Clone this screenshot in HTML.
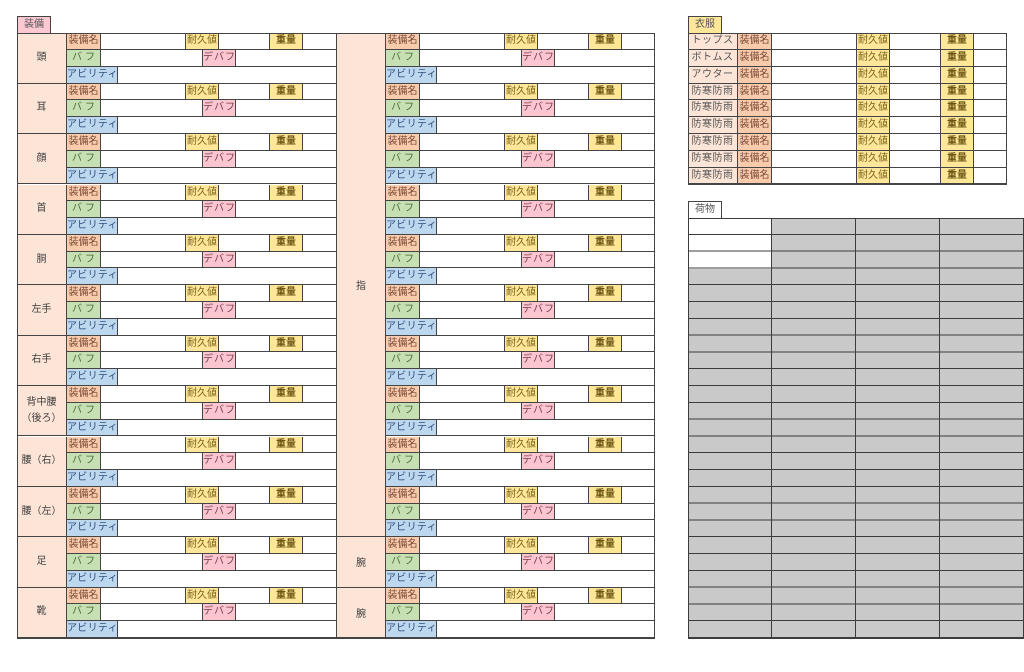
<!DOCTYPE html>
<html><head><meta charset="utf-8"><style>
*{margin:0;padding:0}
body{width:1024px;height:672px;background:#fff;position:relative;overflow:hidden;font-family:"Liberation Sans","Noto Sans CJK JP",sans-serif;font-size:10px;color:#444}
.abs{position:absolute;box-sizing:border-box}
.g{position:absolute;width:319px;height:50.4px}
.lab{position:absolute;left:0;top:0;width:50px;height:50.4px;box-sizing:border-box;background:#fce4d6;border-right:1px solid #444;border-bottom:1px solid #444;display:flex;align-items:center;justify-content:center;text-align:center;line-height:16px;color:#404040}
.row{position:absolute;left:50px;width:269px;height:16.8px;box-sizing:border-box;border-bottom:1px solid #444}
.r0{top:0}.r1{top:16.8px}.r2{top:33.6px}
.row span,.crow span{position:absolute;top:0;height:100%;box-sizing:border-box;border-right:1px solid #444;text-align:center;line-height:16px;white-space:nowrap}
.k{left:0;width:34px;background:#f8cbad;color:#7a4a34}
.t{left:118px;width:34px;border-left:1px solid #444;background:#ffe699;color:#7a6418}
.w{left:202px;width:34px;border-left:1px solid #444;background:#ffe699;color:#6a5410;font-weight:bold}
.b{left:0;width:34px;background:#c6e0b4;color:#4a6a3a;letter-spacing:3px;text-indent:3px}
.d{left:135px;width:34px;border-left:1px solid #444;background:#fcc6d0;color:#7a3a4c;letter-spacing:1px}
.a{left:0;width:51px;background:#bdd7ee;color:#2f5080;letter-spacing:0.3px}
.mid{position:absolute;left:336px;width:50px;box-sizing:border-box;background:#fce4d6;border-left:1px solid #444;border-right:1px solid #444;border-bottom:1px solid #444;display:flex;align-items:center;justify-content:center;color:#404040}
.crow{position:absolute;left:0;width:100%;height:16.8px;box-sizing:border-box;border-bottom:1px solid #444}
.cl{left:0;width:50px;background:#fce4d6;color:#555;letter-spacing:0.5px}
.ck{left:50px;width:34px;background:#f8cbad;color:#7a4a34}
.ct{left:168px;width:34px;border-left:1px solid #444;background:#ffe699;color:#7a6418}
.cw{left:252px;width:34px;border-left:1px solid #444;background:#ffe699;color:#6a5410;font-weight:bold}
.tab{position:absolute;box-sizing:border-box;border:1px solid #444;text-align:center;line-height:16px;height:18px;width:34px}
</style></head><body>

<div class="tab" style="left:17px;top:16px;background:#fcc8d2;color:#555">装備</div>
<div class="tab" style="left:688px;top:16px;background:#ffe699;color:#555">衣服</div>
<div class="tab" style="left:688px;top:201px;background:#fff;color:#555">荷物</div>

<!-- left column -->
<div class="g" style="left:17px;top:33.3px"><div class="lab">頭</div><div class="row r0"><span class="k">装備名</span><span class="t">耐久値</span><span class="w">重量</span></div><div class="row r1"><span class="b">バフ</span><span class="d">デバフ</span></div><div class="row r2"><span class="a">アビリティ</span></div></div>
<div class="g" style="left:17px;top:83.7px"><div class="lab">耳</div><div class="row r0"><span class="k">装備名</span><span class="t">耐久値</span><span class="w">重量</span></div><div class="row r1"><span class="b">バフ</span><span class="d">デバフ</span></div><div class="row r2"><span class="a">アビリティ</span></div></div>
<div class="g" style="left:17px;top:134.1px"><div class="lab">顔</div><div class="row r0"><span class="k">装備名</span><span class="t">耐久値</span><span class="w">重量</span></div><div class="row r1"><span class="b">バフ</span><span class="d">デバフ</span></div><div class="row r2"><span class="a">アビリティ</span></div></div>
<div class="g" style="left:17px;top:184.5px"><div class="lab">首</div><div class="row r0"><span class="k">装備名</span><span class="t">耐久値</span><span class="w">重量</span></div><div class="row r1"><span class="b">バフ</span><span class="d">デバフ</span></div><div class="row r2"><span class="a">アビリティ</span></div></div>
<div class="g" style="left:17px;top:234.9px"><div class="lab">胴</div><div class="row r0"><span class="k">装備名</span><span class="t">耐久値</span><span class="w">重量</span></div><div class="row r1"><span class="b">バフ</span><span class="d">デバフ</span></div><div class="row r2"><span class="a">アビリティ</span></div></div>
<div class="g" style="left:17px;top:285.3px"><div class="lab">左手</div><div class="row r0"><span class="k">装備名</span><span class="t">耐久値</span><span class="w">重量</span></div><div class="row r1"><span class="b">バフ</span><span class="d">デバフ</span></div><div class="row r2"><span class="a">アビリティ</span></div></div>
<div class="g" style="left:17px;top:335.7px"><div class="lab">右手</div><div class="row r0"><span class="k">装備名</span><span class="t">耐久値</span><span class="w">重量</span></div><div class="row r1"><span class="b">バフ</span><span class="d">デバフ</span></div><div class="row r2"><span class="a">アビリティ</span></div></div>
<div class="g" style="left:17px;top:386.1px"><div class="lab">背中腰<br>（後ろ）</div><div class="row r0"><span class="k">装備名</span><span class="t">耐久値</span><span class="w">重量</span></div><div class="row r1"><span class="b">バフ</span><span class="d">デバフ</span></div><div class="row r2"><span class="a">アビリティ</span></div></div>
<div class="g" style="left:17px;top:436.5px"><div class="lab">腰（右）</div><div class="row r0"><span class="k">装備名</span><span class="t">耐久値</span><span class="w">重量</span></div><div class="row r1"><span class="b">バフ</span><span class="d">デバフ</span></div><div class="row r2"><span class="a">アビリティ</span></div></div>
<div class="g" style="left:17px;top:486.9px"><div class="lab">腰（左）</div><div class="row r0"><span class="k">装備名</span><span class="t">耐久値</span><span class="w">重量</span></div><div class="row r1"><span class="b">バフ</span><span class="d">デバフ</span></div><div class="row r2"><span class="a">アビリティ</span></div></div>
<div class="g" style="left:17px;top:537.3px"><div class="lab">足</div><div class="row r0"><span class="k">装備名</span><span class="t">耐久値</span><span class="w">重量</span></div><div class="row r1"><span class="b">バフ</span><span class="d">デバフ</span></div><div class="row r2"><span class="a">アビリティ</span></div></div>
<div class="g" style="left:17px;top:587.7px"><div class="lab">靴</div><div class="row r0"><span class="k">装備名</span><span class="t">耐久値</span><span class="w">重量</span></div><div class="row r1"><span class="b">バフ</span><span class="d">デバフ</span></div><div class="row r2"><span class="a">アビリティ</span></div></div>

<!-- middle labels -->
<div class="mid" style="top:33.3px;height:504px">指</div>
<div class="mid" style="top:537.3px;height:50.4px">腕</div>
<div class="mid" style="top:587.7px;height:50.4px">腕</div>

<!-- right column -->
<div class="g" style="left:336px;top:33.3px"><div class="row r0"><span class="k">装備名</span><span class="t">耐久値</span><span class="w">重量</span></div><div class="row r1"><span class="b">バフ</span><span class="d">デバフ</span></div><div class="row r2"><span class="a">アビリティ</span></div></div>
<div class="g" style="left:336px;top:83.7px"><div class="row r0"><span class="k">装備名</span><span class="t">耐久値</span><span class="w">重量</span></div><div class="row r1"><span class="b">バフ</span><span class="d">デバフ</span></div><div class="row r2"><span class="a">アビリティ</span></div></div>
<div class="g" style="left:336px;top:134.1px"><div class="row r0"><span class="k">装備名</span><span class="t">耐久値</span><span class="w">重量</span></div><div class="row r1"><span class="b">バフ</span><span class="d">デバフ</span></div><div class="row r2"><span class="a">アビリティ</span></div></div>
<div class="g" style="left:336px;top:184.5px"><div class="row r0"><span class="k">装備名</span><span class="t">耐久値</span><span class="w">重量</span></div><div class="row r1"><span class="b">バフ</span><span class="d">デバフ</span></div><div class="row r2"><span class="a">アビリティ</span></div></div>
<div class="g" style="left:336px;top:234.9px"><div class="row r0"><span class="k">装備名</span><span class="t">耐久値</span><span class="w">重量</span></div><div class="row r1"><span class="b">バフ</span><span class="d">デバフ</span></div><div class="row r2"><span class="a">アビリティ</span></div></div>
<div class="g" style="left:336px;top:285.3px"><div class="row r0"><span class="k">装備名</span><span class="t">耐久値</span><span class="w">重量</span></div><div class="row r1"><span class="b">バフ</span><span class="d">デバフ</span></div><div class="row r2"><span class="a">アビリティ</span></div></div>
<div class="g" style="left:336px;top:335.7px"><div class="row r0"><span class="k">装備名</span><span class="t">耐久値</span><span class="w">重量</span></div><div class="row r1"><span class="b">バフ</span><span class="d">デバフ</span></div><div class="row r2"><span class="a">アビリティ</span></div></div>
<div class="g" style="left:336px;top:386.1px"><div class="row r0"><span class="k">装備名</span><span class="t">耐久値</span><span class="w">重量</span></div><div class="row r1"><span class="b">バフ</span><span class="d">デバフ</span></div><div class="row r2"><span class="a">アビリティ</span></div></div>
<div class="g" style="left:336px;top:436.5px"><div class="row r0"><span class="k">装備名</span><span class="t">耐久値</span><span class="w">重量</span></div><div class="row r1"><span class="b">バフ</span><span class="d">デバフ</span></div><div class="row r2"><span class="a">アビリティ</span></div></div>
<div class="g" style="left:336px;top:486.9px"><div class="row r0"><span class="k">装備名</span><span class="t">耐久値</span><span class="w">重量</span></div><div class="row r1"><span class="b">バフ</span><span class="d">デバフ</span></div><div class="row r2"><span class="a">アビリティ</span></div></div>
<div class="g" style="left:336px;top:537.3px"><div class="row r0"><span class="k">装備名</span><span class="t">耐久値</span><span class="w">重量</span></div><div class="row r1"><span class="b">バフ</span><span class="d">デバフ</span></div><div class="row r2"><span class="a">アビリティ</span></div></div>
<div class="g" style="left:336px;top:587.7px"><div class="row r0"><span class="k">装備名</span><span class="t">耐久値</span><span class="w">重量</span></div><div class="row r1"><span class="b">バフ</span><span class="d">デバフ</span></div><div class="row r2"><span class="a">アビリティ</span></div></div>

<!-- main frame -->
<div class="abs" style="left:17px;top:33px;width:638px;height:605.5px;border:1px solid #444"></div>

<!-- clothing table -->
<div class="abs" style="left:688px;top:33.3px;width:319px;height:151.2px">
<div class="crow" style="top:0"><span class="cl">トップス</span><span class="ck">装備名</span><span class="ct">耐久値</span><span class="cw">重量</span></div>
<div class="crow" style="top:16.8px"><span class="cl">ボトムス</span><span class="ck">装備名</span><span class="ct">耐久値</span><span class="cw">重量</span></div>
<div class="crow" style="top:33.6px"><span class="cl">アウター</span><span class="ck">装備名</span><span class="ct">耐久値</span><span class="cw">重量</span></div>
<div class="crow" style="top:50.4px"><span class="cl">防寒防雨</span><span class="ck">装備名</span><span class="ct">耐久値</span><span class="cw">重量</span></div>
<div class="crow" style="top:67.2px"><span class="cl">防寒防雨</span><span class="ck">装備名</span><span class="ct">耐久値</span><span class="cw">重量</span></div>
<div class="crow" style="top:84px"><span class="cl">防寒防雨</span><span class="ck">装備名</span><span class="ct">耐久値</span><span class="cw">重量</span></div>
<div class="crow" style="top:100.8px"><span class="cl">防寒防雨</span><span class="ck">装備名</span><span class="ct">耐久値</span><span class="cw">重量</span></div>
<div class="crow" style="top:117.6px"><span class="cl">防寒防雨</span><span class="ck">装備名</span><span class="ct">耐久値</span><span class="cw">重量</span></div>
<div class="crow" style="top:134.4px"><span class="cl">防寒防雨</span><span class="ck">装備名</span><span class="ct">耐久値</span><span class="cw">重量</span></div>
</div>
<div class="abs" style="left:688px;top:33px;width:319px;height:152px;border:1px solid #444"></div>

<!-- luggage grid -->
<div class="abs" style="left:688px;top:218.3px;width:336px;height:420px;background:#c9c9c9"></div>
<div class="abs" style="left:688px;top:218.3px;width:84px;height:50.4px;background:#fff"></div>
<div class="abs" style="left:688px;top:218.3px;width:336px;height:420px;background:repeating-linear-gradient(to bottom,transparent 0,transparent 15.8px,#3c3c3c 15.8px,#3c3c3c 16.8px)"></div>
<div class="abs" style="left:771px;top:218.3px;width:1px;height:420px;background:#3c3c3c"></div>
<div class="abs" style="left:855px;top:218.3px;width:1px;height:420px;background:#3c3c3c"></div>
<div class="abs" style="left:939px;top:218.3px;width:1px;height:420px;background:#3c3c3c"></div>
<div class="abs" style="left:688px;top:218px;width:336px;height:420.5px;border:1px solid #3c3c3c"></div>

</body></html>
